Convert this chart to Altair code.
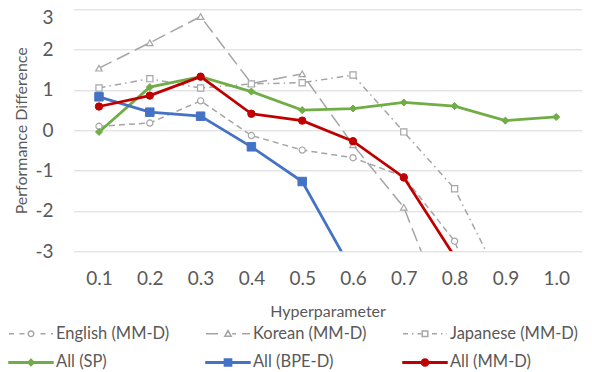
import altair as alt
import pandas as pd

# ---------------- data ----------------
x_labels = ["0.1", "0.2", "0.3", "0.4", "0.5", "0.6", "0.7", "0.8", "0.9", "1.0"]
series_names = ["English (MM-D)", "Korean (MM-D)", "Japanese (MM-D)",
                "All (SP)", "All (BPE-D)", "All (MM-D)"]

english_mmd = [0.10, 0.18, 0.73, -0.13, -0.49, -0.68, -1.15, -2.75, -5.9]
korean_mmd = [1.54, 2.17, 2.82, 1.16, 1.40, -0.36, -1.91, -5.1]
japanese_mmd = [1.05, 1.28, 1.05, 1.15, 1.18, 1.37, -0.04, -1.45, -3.95]
all_sp = [-0.04, 1.07, 1.33, 0.96, 0.50, 0.54, 0.69, 0.60, 0.24, 0.33]
all_bped = [0.83, 0.45, 0.35, -0.41, -1.27, -3.52]
all_mmd = [0.59, 0.86, 1.33, 0.41, 0.24, -0.27, -1.17, -3.13]

series_values = [english_mmd, korean_mmd, japanese_mmd, all_sp, all_bped, all_mmd]
y_ticks = [-3, -2, -1, 0, 1, 2, 3]

rows = []
for name, vals in zip(series_names, series_values):
    for i, v in enumerate(vals):
        rows.append({"series": name, "x": x_labels[i], "y": v, "order": i})
df = pd.DataFrame(rows)

# legend grid is filled column by column (2 rows x 3 columns)
legend_order = [series_names[0], series_names[3], series_names[1],
                series_names[4], series_names[2], series_names[5]]

# ---------------- styles ----------------
GRAY = "#A5A5A5"
TEXT = "#595959"
FONT = "Lato"

styles = {
    "English (MM-D)": dict(color=GRAY, dash=[6, 4], width=1.5, shape="circle", size=38,
                           fill="white", sw=1.2, leg_dash=[5, 5.5], marker=("circle", 2.8)),
    "Korean (MM-D)": dict(color=GRAY, dash=[14, 6], width=1.5, shape="triangle-up", size=42,
                          fill="white", sw=1.2, leg_dash=[12, 6], marker=("triangle", 3.2)),
    "Japanese (MM-D)": dict(color=GRAY, dash=[6.5, 4, 1.5, 4], width=1.5, shape="square", size=38,
                            fill="white", sw=1.2, leg_dash=[5, 4, 1.5, 4], marker=("square", 2.8)),
    "All (SP)": dict(color="#70AD47", dash=None, width=2.75, shape="diamond", size=50,
                     fill="#70AD47", sw=1, leg_dash=None, marker=("diamond", 3.2)),
    "All (BPE-D)": dict(color="#4472C4", dash=None, width=2.75, shape="square", size=72,
                        fill="#4472C4", sw=1, leg_dash=None, marker=("square", 3.6)),
    "All (MM-D)": dict(color="#C00000", dash=None, width=2.75, shape="circle", size=55,
                       fill="#C00000", sw=1, leg_dash=None, marker=("circle", 3.6)),
}

# ---------------- legend symbol paths ----------------
SYM_SIZE = 576
U = (SYM_SIZE ** 0.5) / 2.0
HALF = 22.0


def f(v):
    return f"{v / U:.3f}"


def dash_path(pattern, gap):
    segs = []
    x = -HALF
    i = 0
    on = True
    while x < HALF:
        L = pattern[i % len(pattern)]
        x2 = min(x + L, HALF)
        if on:
            for a, b in [(x, min(x2, -gap)), (max(x, gap), x2)]:
                if b - a > 0.4:
                    segs.append(f"M{f(a)},0H{f(b)}")
        x = x2
        on = not on
        i += 1
    return "".join(segs)


def marker_path(kind, s):
    if kind == "circle":
        return f"M{f(s)},0A{f(s)},{f(s)} 0 1,1 {f(-s)},0A{f(s)},{f(s)} 0 1,1 {f(s)},0Z"
    if kind == "square":
        return f"M{f(-s)},{f(-s)}H{f(s)}V{f(s)}H{f(-s)}Z"
    if kind == "triangle":
        return f"M0,{f(-s)}L{f(s)},{f(s * 0.8)}L{f(-s)},{f(s * 0.8)}Z"
    return f"M0,{f(-s)}L{f(s)},0L0,{f(s)}L{f(-s)},0Z"


legend_paths, legend_fills, legend_strokes = [], [], []
for name in legend_order:
    st = styles[name]
    kind, s = st["marker"]
    if st["leg_dash"]:
        line = dash_path(st["leg_dash"], s + 1.0)
    else:
        t = 0.7
        line = f"M{f(-HALF)},{f(-t)}H{f(HALF)}V{f(t)}H{f(-HALF)}Z"
    legend_paths.append(line + marker_path(kind, s))
    legend_fills.append(st["fill"])
    legend_strokes.append(st["color"])

# ---------------- encodings ----------------
x_enc = alt.X(
    "x:N",
    sort=x_labels,
    scale=alt.Scale(type="point", padding=0.5, domain=x_labels),
    axis=alt.Axis(
        title="Hyperparameter", labelAngle=0, labelFont=FONT, labelFontSize=19,
        labelColor=TEXT, labelPadding=18, ticks=False, domain=False, grid=False,
        titleFont=FONT, titleFontSize=16, titleFontWeight="normal", titleColor=TEXT,
        titleY=65.4, titleBaseline="alphabetic",
    ),
)
y_enc = alt.Y(
    "y:Q",
    scale=alt.Scale(domain=[-3, 3], nice=False, zero=False),
    axis=alt.Axis(
        title="Performance Difference", values=y_ticks, labelExpr="datum.value + ''",
        labelFont=FONT, labelFontSize=19, labelColor=TEXT, labelPadding=20.5,
        labelOffset={"condition": {"test": "datum.value == 3", "value": 8.5}, "value": 0},
        grid=True, gridColor="#D9D9D9", gridWidth=1, ticks=False, domain=False,
        titleFont=FONT, titleFontSize=16, titleFontWeight="normal", titleColor=TEXT,
        titleX=-46.6, titleY=121, titleBaseline="alphabetic", titleAngle=270,
    ),
)

layers = []
for name in series_names:
    st = styles[name]
    line_kw = dict(color=st["color"], strokeWidth=st["width"], clip=True)
    if st["dash"]:
        line_kw["strokeDash"] = st["dash"]
    layers.append(
        alt.Chart(df)
        .transform_filter(alt.FieldEqualPredicate(field="series", equal=name))
        .mark_line(**line_kw)
        .encode(x=x_enc, y=y_enc, order="order:Q")
    )
for name in series_names:
    st = styles[name]
    layers.append(
        alt.Chart(df)
        .transform_filter(alt.FieldEqualPredicate(field="series", equal=name))
        .mark_point(shape=st["shape"], size=st["size"], filled=True, fill=st["fill"],
                    stroke=st["color"], strokeWidth=st["sw"], opacity=1, clip=True)
        .encode(x=x_enc, y=y_enc)
    )

leg = alt.Legend(
    title=None, orient="none", legendX=-55.6, legendY=311.2, columns=3,
    symbolSize=SYM_SIZE, symbolStrokeWidth=1.5, symbolOpacity=1,
    labelFont=FONT, labelFontSize=16.5, labelColor=TEXT, labelOffset=12,
    labelLimit=400, columnPadding=18, rowPadding=7, gridAlign="all", padding=0,
)
legend_layer = alt.Chart(df).mark_point(opacity=0, filled=True).encode(
    x=x_enc, y=y_enc,
    shape=alt.Shape("series:N", scale=alt.Scale(domain=legend_order, range=legend_paths), legend=leg),
    fill=alt.Fill("series:N", scale=alt.Scale(domain=legend_order, range=legend_fills), legend=leg),
    stroke=alt.Stroke("series:N", scale=alt.Scale(domain=legend_order, range=legend_strokes), legend=leg),
)
layers.append(legend_layer)

chart = (
    alt.layer(*layers)
    .properties(
        width=508, height=242,
        autosize=alt.AutoSizeParams(type="none"),
        padding={"left": 65.6, "top": 1.3, "right": 2, "bottom": 125},
        background="white",
    )
    .configure_view(stroke=None)
)

chart.save("out.html", embed_options={"renderer": "svg", "actions": False})
